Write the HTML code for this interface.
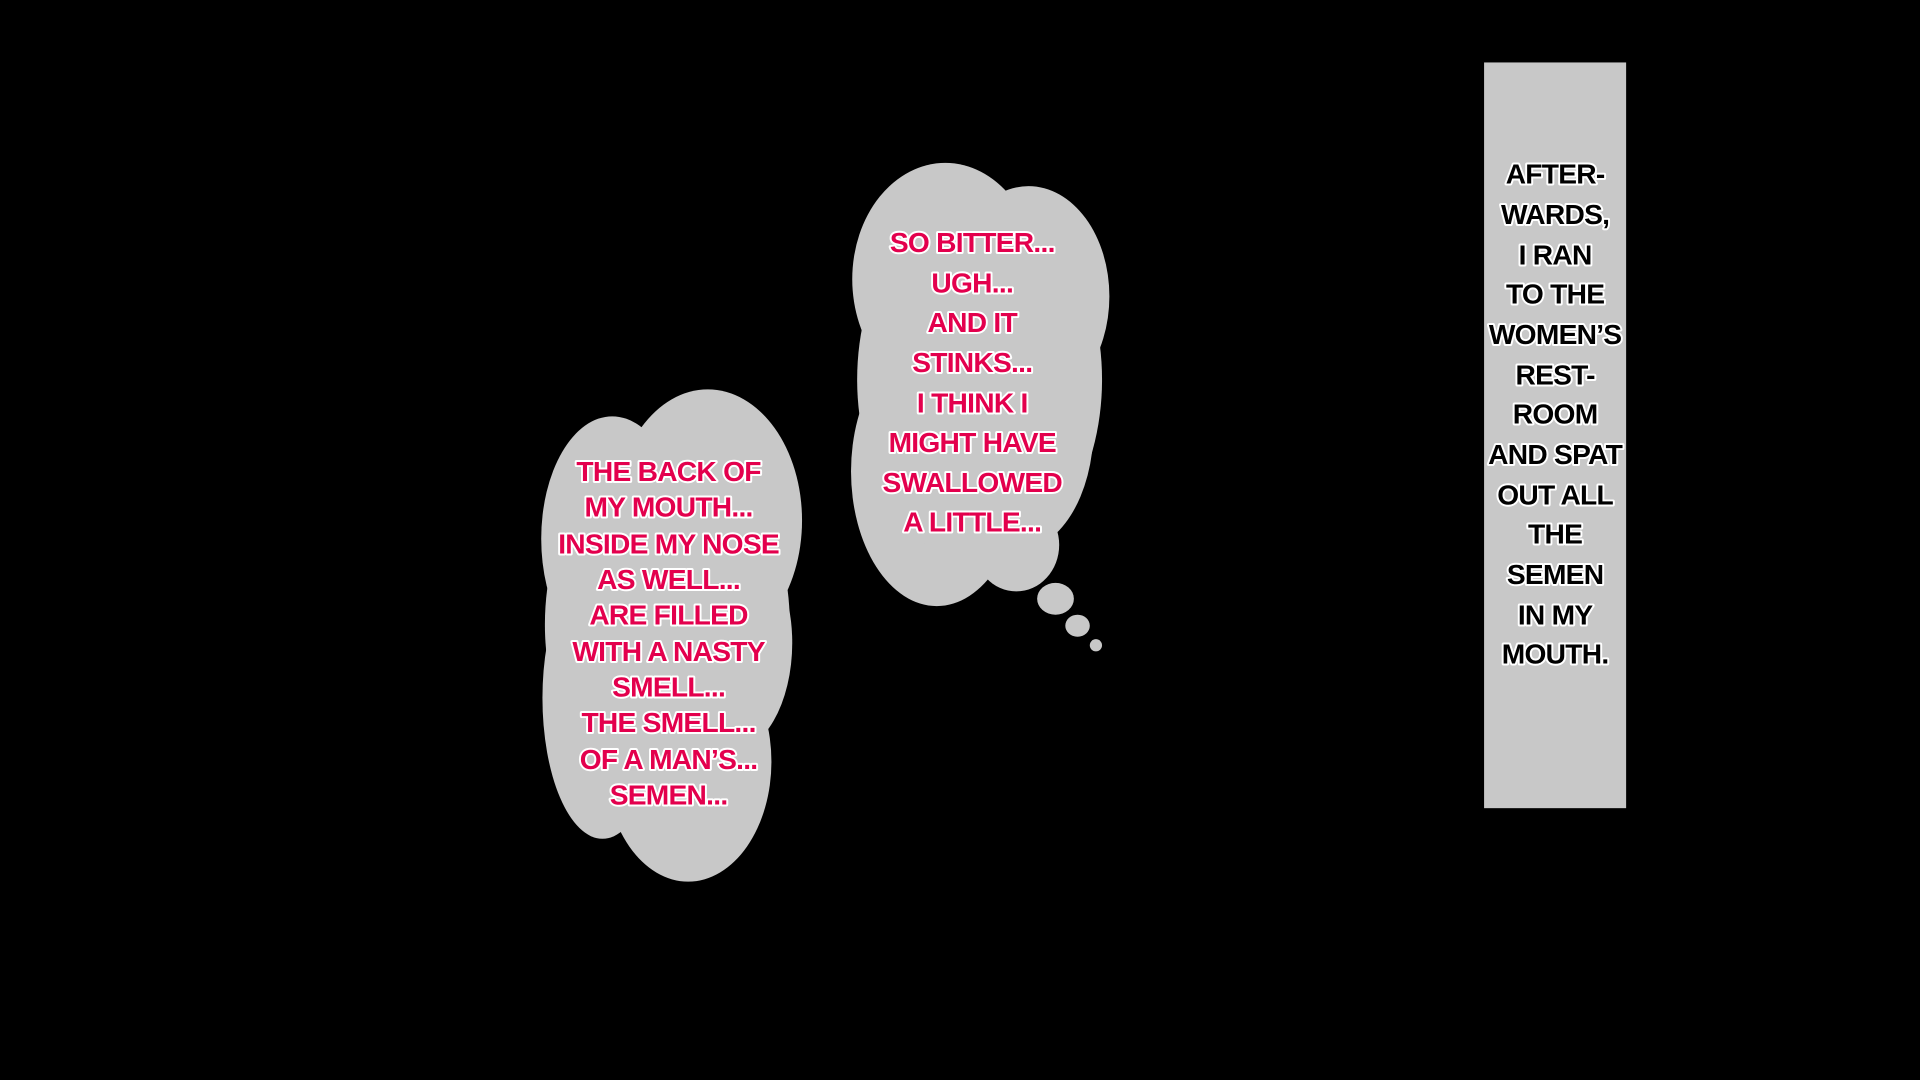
<!DOCTYPE html>
<html><head><meta charset="utf-8"><style>
html,body{margin:0;padding:0;background:#000;width:1920px;height:1080px;overflow:hidden}
svg{display:block}
text{font-family:"Liberation Sans",sans-serif;font-weight:bold;text-anchor:middle;paint-order:stroke;stroke-linejoin:round}
.r{fill:#e3004d;stroke:#fff;stroke-width:3.2px;font-size:23px;letter-spacing:-0.6px}
.k{fill:#000;stroke:#fff;stroke-width:3.2px;font-size:23px;letter-spacing:-0.6px}
</style></head><body>
<svg width="1920" height="1080" viewBox="0 0 1568 882" preserveAspectRatio="none">
<rect width="1568" height="882" fill="#000"/>
<g fill="#c8c8c8">
<ellipse cx="578" cy="425" rx="77" ry="107"/>
<ellipse cx="500" cy="440" rx="58" ry="100"/>
<ellipse cx="492" cy="570" rx="49" ry="115"/>
<ellipse cx="562" cy="622" rx="68" ry="98"/>
<ellipse cx="595" cy="525" rx="52" ry="90"/>
<ellipse cx="545" cy="510" rx="100" ry="150"/>
<ellipse cx="772" cy="228" rx="76" ry="95"/>
<ellipse cx="840" cy="242" rx="66" ry="90"/>
<ellipse cx="765" cy="385" rx="70" ry="110"/>
<ellipse cx="830" cy="350" rx="63" ry="100"/>
<ellipse cx="830" cy="445" rx="35" ry="38"/>
<ellipse cx="800" cy="310" rx="100" ry="150"/>
<ellipse cx="862" cy="489" rx="15" ry="13"/>
<ellipse cx="880" cy="511" rx="10" ry="9"/>
<ellipse cx="895" cy="527" rx="5" ry="5"/>
</g>
<rect x="1212" y="51" width="116" height="609" fill="#c8c8c8"/>
<g class="r">
<text x="546" y="393">THE BACK OF</text>
<text x="546" y="422">MY MOUTH...</text>
<text x="546" y="452">INSIDE MY NOSE</text>
<text x="546" y="481">AS WELL...</text>
<text x="546" y="510">ARE FILLED</text>
<text x="546" y="540">WITH A NASTY</text>
<text x="546" y="569">SMELL...</text>
<text x="546" y="598">THE SMELL...</text>
<text x="546" y="628">OF A MAN’S...</text>
<text x="546" y="657">SEMEN...</text>
<text x="794" y="206">SO BITTER...</text>
<text x="794" y="239">UGH...</text>
<text x="794" y="271">AND IT</text>
<text x="794" y="304">STINKS...</text>
<text x="794" y="337">I THINK I</text>
<text x="794" y="369">MIGHT HAVE</text>
<text x="794" y="402">SWALLOWED</text>
<text x="794" y="434">A LITTLE...</text>
</g>
<g class="k">
<text x="1270" y="150">AFTER-</text>
<text x="1270" y="183">WARDS,</text>
<text x="1270" y="216">I RAN</text>
<text x="1270" y="248">TO THE</text>
<text x="1270" y="281">WOMEN’S</text>
<text x="1270" y="314">REST-</text>
<text x="1270" y="346">ROOM</text>
<text x="1270" y="379">AND SPAT</text>
<text x="1270" y="412">OUT ALL</text>
<text x="1270" y="444">THE</text>
<text x="1270" y="477">SEMEN</text>
<text x="1270" y="510">IN MY</text>
<text x="1270" y="542">MOUTH.</text>
</g>
</svg>
</body></html>
